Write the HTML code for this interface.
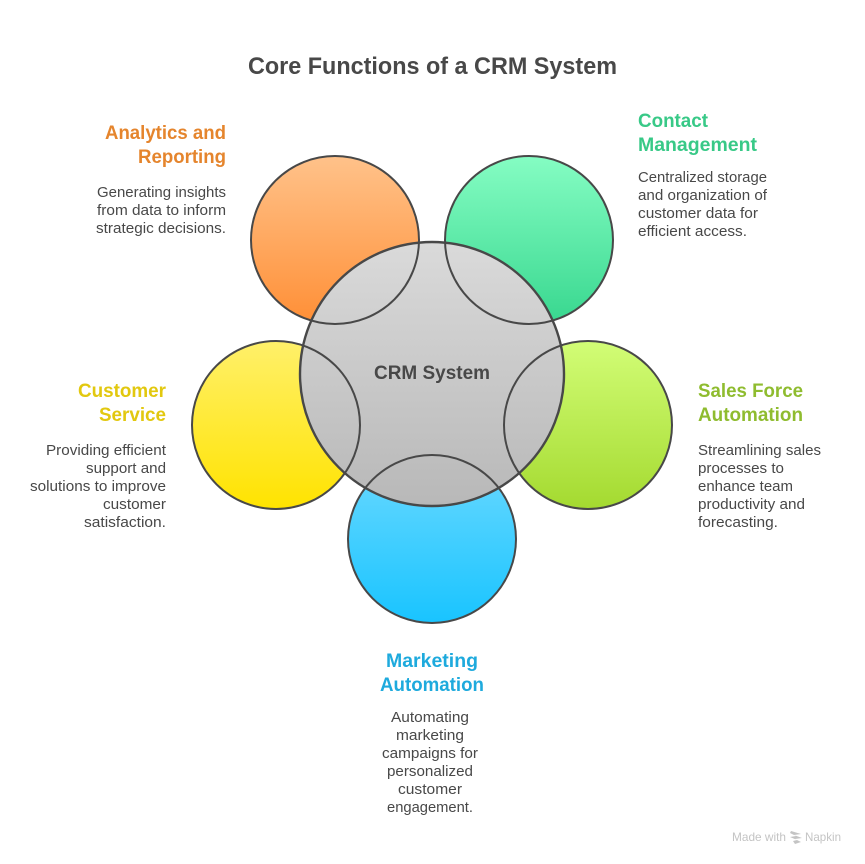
<!DOCTYPE html>
<html>
<head>
<meta charset="utf-8">
<style>
html,body{margin:0;padding:0;background:#fff}
svg{display:block}
text{font-family:"Liberation Sans",sans-serif}
.h{font-size:19.5px;font-weight:700}
.b{font-size:14.3px;fill:#484848}
.s{fill:none;stroke:#484848;stroke-width:2}
</style>
</head>
<body>
<svg width="865" height="864" viewBox="0 0 865 864" xmlns="http://www.w3.org/2000/svg">
<defs>
<linearGradient id="o" x1="0" y1="0" x2="0" y2="1"><stop offset="0" stop-color="#ffc28a"/><stop offset="1" stop-color="#ff8f36"/></linearGradient>
<linearGradient id="g" x1="0" y1="0" x2="0" y2="1"><stop offset="0" stop-color="#85fdc3"/><stop offset="1" stop-color="#38d78f"/></linearGradient>
<linearGradient id="y" x1="0" y1="0" x2="0" y2="1"><stop offset="0" stop-color="#fff06a"/><stop offset="1" stop-color="#ffe300"/></linearGradient>
<linearGradient id="l" x1="0" y1="0" x2="0" y2="1"><stop offset="0" stop-color="#d2fd76"/><stop offset="1" stop-color="#a4da30"/></linearGradient>
<linearGradient id="c" x1="0" y1="0" x2="0" y2="1"><stop offset="0" stop-color="#6cd9ff"/><stop offset="1" stop-color="#19c4ff"/></linearGradient>
<linearGradient id="m" x1="0" y1="0" x2="0" y2="1"><stop offset="0" stop-color="#dadada"/><stop offset="1" stop-color="#b8b8b8"/></linearGradient>
</defs>

<circle cx="335" cy="240" r="84" fill="url(#o)"/>
<circle cx="529" cy="240" r="84" fill="url(#g)"/>
<circle cx="276" cy="425" r="84" fill="url(#y)"/>
<circle cx="588" cy="425" r="84" fill="url(#l)"/>
<circle cx="432" cy="539" r="84" fill="url(#c)"/>
<circle cx="432" cy="374" r="132" fill="url(#m)"/>
<circle cx="335" cy="240" r="84" class="s"/>
<circle cx="529" cy="240" r="84" class="s"/>
<circle cx="276" cy="425" r="84" class="s"/>
<circle cx="588" cy="425" r="84" class="s"/>
<circle cx="432" cy="539" r="84" class="s"/>
<circle cx="432" cy="374" r="132" class="s" style="stroke-width:2.4"/>

<text x="248" y="74" font-size="24" font-weight="700" fill="#484848" textLength="369" lengthAdjust="spacingAndGlyphs">Core Functions of a CRM System</text>
<text x="374" y="379" font-size="19" font-weight="700" fill="#484848" textLength="116" lengthAdjust="spacingAndGlyphs">CRM System</text>

<text x="105" y="139" class="h" fill="#e5852d" textLength="121" lengthAdjust="spacingAndGlyphs">Analytics and</text>
<text x="138" y="163" class="h" fill="#e5852d" textLength="88" lengthAdjust="spacingAndGlyphs">Reporting</text>
<text x="97" y="197" class="b" textLength="129" lengthAdjust="spacingAndGlyphs">Generating insights</text>
<text x="97" y="215" class="b" textLength="129" lengthAdjust="spacingAndGlyphs">from data to inform</text>
<text x="96" y="233" class="b" textLength="130" lengthAdjust="spacingAndGlyphs">strategic decisions.</text>

<text x="78" y="397" class="h" fill="#e2c80f" textLength="88" lengthAdjust="spacingAndGlyphs">Customer</text>
<text x="99" y="421" class="h" fill="#e2c80f" textLength="67" lengthAdjust="spacingAndGlyphs">Service</text>
<text x="46" y="455" class="b" textLength="120" lengthAdjust="spacingAndGlyphs">Providing efficient</text>
<text x="86" y="473" class="b" textLength="80" lengthAdjust="spacingAndGlyphs">support and</text>
<text x="30" y="491" class="b" textLength="136" lengthAdjust="spacingAndGlyphs">solutions to improve</text>
<text x="103" y="509" class="b" textLength="63" lengthAdjust="spacingAndGlyphs">customer</text>
<text x="84" y="527" class="b" textLength="82" lengthAdjust="spacingAndGlyphs">satisfaction.</text>

<text x="638" y="127" class="h" fill="#38c987" textLength="70" lengthAdjust="spacingAndGlyphs">Contact</text>
<text x="638" y="151" class="h" fill="#38c987" textLength="119" lengthAdjust="spacingAndGlyphs">Management</text>
<text x="638" y="182" class="b" textLength="129" lengthAdjust="spacingAndGlyphs">Centralized storage</text>
<text x="638" y="200" class="b" textLength="129" lengthAdjust="spacingAndGlyphs">and organization of</text>
<text x="638" y="218" class="b" textLength="120" lengthAdjust="spacingAndGlyphs">customer data for</text>
<text x="638" y="236" class="b" textLength="109" lengthAdjust="spacingAndGlyphs">efficient access.</text>

<text x="698" y="397" class="h" fill="#8fbc2f" textLength="105" lengthAdjust="spacingAndGlyphs">Sales Force</text>
<text x="698" y="421" class="h" fill="#8fbc2f" textLength="105" lengthAdjust="spacingAndGlyphs">Automation</text>
<text x="698" y="455" class="b" textLength="123" lengthAdjust="spacingAndGlyphs">Streamlining sales</text>
<text x="698" y="473" class="b" textLength="86" lengthAdjust="spacingAndGlyphs">processes to</text>
<text x="698" y="491" class="b" textLength="95" lengthAdjust="spacingAndGlyphs">enhance team</text>
<text x="698" y="509" class="b" textLength="107" lengthAdjust="spacingAndGlyphs">productivity and</text>
<text x="698" y="527" class="b" textLength="80" lengthAdjust="spacingAndGlyphs">forecasting.</text>

<text x="386" y="667" class="h" fill="#1eaadd" textLength="92" lengthAdjust="spacingAndGlyphs">Marketing</text>
<text x="380" y="691" class="h" fill="#1eaadd" textLength="104" lengthAdjust="spacingAndGlyphs">Automation</text>
<text x="391" y="722" class="b" textLength="78" lengthAdjust="spacingAndGlyphs">Automating</text>
<text x="396" y="740" class="b" textLength="68" lengthAdjust="spacingAndGlyphs">marketing</text>
<text x="382" y="758" class="b" textLength="96" lengthAdjust="spacingAndGlyphs">campaigns for</text>
<text x="387" y="776" class="b" textLength="86" lengthAdjust="spacingAndGlyphs">personalized</text>
<text x="398" y="794" class="b" textLength="64" lengthAdjust="spacingAndGlyphs">customer</text>
<text x="387" y="812" class="b" textLength="86" lengthAdjust="spacingAndGlyphs">engagement.</text>

<text x="732" y="841" font-size="12" fill="#c4c4c4" textLength="54" lengthAdjust="spacingAndGlyphs">Made with</text>
<path d="M791 831l10 3-7 1 8 3-7 1 6 3-6 2-2-3 4-1-7-3 6-1-6-3z" fill="#c4c4c4"/>
<text x="805" y="841" font-size="12" fill="#c4c4c4" textLength="36" lengthAdjust="spacingAndGlyphs">Napkin</text>
</svg>
</body>
</html>
